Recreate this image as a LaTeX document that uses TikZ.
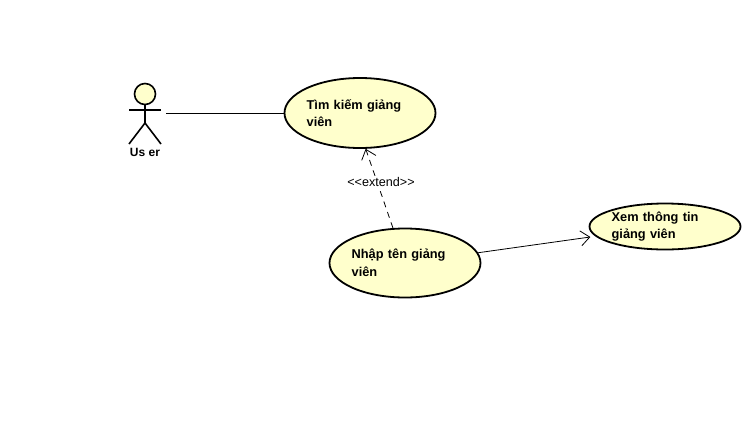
\documentclass[tikz,border=0pt]{standalone}
\usepackage{fontspec}
\setmainfont{Liberation Sans}
\usetikzlibrary{shapes.geometric,arrows.meta}
\definecolor{usecasefill}{RGB}{255,255,204}
\tikzset{
  usecase/.style={ellipse,draw,fill=usecasefill,line width=1.8pt,inner sep=0pt,minimum width=151pt,text width=106.7pt,align=left,font=\fontsize{12.8}{17.5}\selectfont\bfseries},
  relation/.style={line width=0.8pt,-{Straight Barb[length=9pt,width=15pt]}},
}
\begin{document}
\begin{tikzpicture}[x=1pt,y=-1pt]
  \useasboundingbox (0,0) rectangle (751,442);
  % Actor
  \node[circle,draw,fill=usecasefill,line width=1.6pt,minimum size=21pt,inner sep=0pt] (head) at (145,94) {};
  \coordinate (hip) at (145,123);
  \draw[line width=1.6pt] (head) -- (hip);
  \draw[line width=1.6pt] (129,110) -- (161,110);
  \foreach \x in {129,161} {\draw[line width=1.6pt] (hip) -- (\x,144);}
  \node[font=\fontsize{12}{14}\selectfont\bfseries,inner sep=0pt] (user) at (145,152.5) {Us er};
  \coordinate (userport) at (166,113);
  % Use cases
  \node[usecase,minimum height=70pt] (search) at (360,113) {Tìm kiếm giảng\\viên};
  \node[usecase,minimum height=69pt] (enter) at (405,263) {Nhập tên giảng\\viên};
  \node[usecase,minimum height=46pt] (view) at (665,226.5) {Xem thông tin\\giảng viên};
  % Connectors
  \draw[line width=0.8pt] (userport) -- (search);
  \draw[relation,dash pattern=on 6pt off 5pt] (enter.109) -- (search.279);
  \draw[relation,shorten >=5pt] (enter) -- (view);
  % Stereotype
  \node[fill=white,inner sep=1pt,font=\fontsize{12.6}{14}\selectfont] (extend) at (381,181.5) {<{}<extend>{}>};
\end{tikzpicture}
\end{document}
